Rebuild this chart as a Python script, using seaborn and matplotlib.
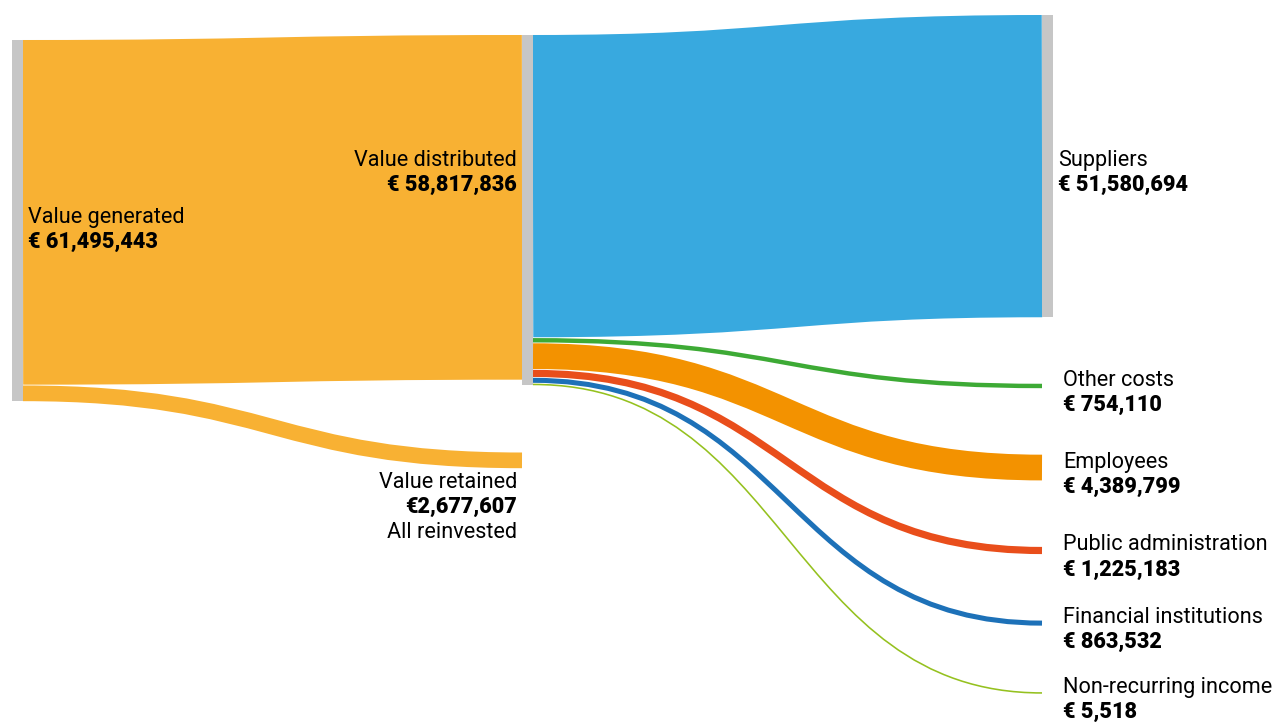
import matplotlib
matplotlib.use("Agg")
import matplotlib.pyplot as plt
from matplotlib.path import Path
from matplotlib.patches import PathPatch, Rectangle
import seaborn as sns

# ---- data -------------------------------------------------------------
generated_label = "Value generated"
distributed_label = "Value distributed"
retained_label = "Value retained"
retained_note = "All reinvested"

value_generated = 61495443
value_distributed = 58817836
value_retained = 2677607

recipients = [
    "Suppliers",
    "Other costs",
    "Employees",
    "Public administration",
    "Financial institutions",
    "Non-recurring income",
]
recipient_values = [51580694, 754110, 4389799, 1225183, 863532, 5518]
recipient_colors = ["#38A9DF", "#3DAA35", "#F39200", "#E94E1B", "#1D71B8", "#95C11F"]

value_color = "#F8B133"
node_color = "#C6C6C6"

# ---- theme --------------------------------------------------------------
sns.set_theme(style="white")
plt.rcParams["font.family"] = ["Roboto", "DejaVu Sans"]

W, H, DPI = 1280, 722, 100
fig = plt.figure(figsize=(W / DPI, H / DPI), dpi=DPI)
ax = fig.add_axes([0, 0, 1, 1])
ax.set_xlim(0, W)
ax.set_ylim(H, 0)
ax.axis("off")

# ---- layout -------------------------------------------------------------
PX_PER_EURO = 5.86e-6      # vertical scale of the flows
MIN_W = 1.6                # thinnest drawable flow
GAP = 0.8                  # hairline between stacked flows
NODE_W = 11
COL_X = [12, 522, 1042]
TOP_LEFT, TOP_MID, TOP_RIGHT = 40, 35, 15
RIGHT_SPACING = 66.5
RETAINED_TOP = 452.5
PT = 72 / DPI

FS = 15.6
TXT = "#000000"


def width(v):
    return max(v * PX_PER_EURO, MIN_W)


def euro(v, space=True):
    return ("€ " if space else "€") + f"{v:,}"


def flow(x0, y0, x1, y1, w, color):
    """Horizontal bezier ribbon of constant width w (pixels), centred on the given ends."""
    xm = (x0 + x1) / 2
    path = Path([(x0, y0), (xm, y0), (xm, y1), (x1, y1)],
                [Path.MOVETO, Path.CURVE4, Path.CURVE4, Path.CURVE4])
    ax.add_patch(PathPatch(path, fill=False, edgecolor=color, lw=w * PT,
                           capstyle="butt", joinstyle="round"))


def node(x, top, bottom):
    ax.add_patch(Rectangle((x, top), NODE_W, bottom - top, color=node_color, lw=0))


# ---- generated -> distributed / retained ---------------------------------
w_dist = width(value_distributed)
w_ret = width(value_retained)

x_left = COL_X[0] + NODE_W
x_mid = COL_X[1]

dist_left_top = TOP_LEFT
ret_left_top = dist_left_top + w_dist + GAP
node0_bottom = ret_left_top + w_ret

flow(x_left, dist_left_top + w_dist / 2, x_mid, TOP_MID + w_dist / 2, w_dist, value_color)
flow(x_left, ret_left_top + w_ret / 2, x_mid, RETAINED_TOP + w_ret / 2, w_ret, value_color)
node(COL_X[0], TOP_LEFT, node0_bottom)

# ---- distributed -> recipients -------------------------------------------
x_mid_out = COL_X[1] + NODE_W
x_right = COL_X[2]

y_out = TOP_MID
y_in = TOP_RIGHT
right_nodes = []
for name, v, c in zip(recipients, recipient_values, recipient_colors):
    w = width(v)
    flow(x_mid_out, y_out + w / 2, x_right, y_in + w / 2, w, c)
    right_nodes.append((name, v, y_in, y_in + w))
    y_out += w + GAP
    y_in += w + RIGHT_SPACING
node1_bottom = y_out - GAP
node(COL_X[1], TOP_MID, node1_bottom)

# only the dominant recipient carries a visible node bar
name0, v0, t0, b0 = right_nodes[0]
node(COL_X[2], t0, b0)

# ---- labels ----------------------------------------------------------------
def label(x, y, name, value_text, ha="left", extra=None):
    ax.text(x, y, name, fontsize=FS, color=TXT, ha=ha, va="baseline")
    ax.text(x, y + 25, value_text, fontsize=FS, color=TXT, ha=ha, va="baseline",
            fontweight="heavy")
    if extra:
        ax.text(x, y + 50, extra, fontsize=FS, color=TXT, ha=ha, va="baseline")


node0_center = (TOP_LEFT + node0_bottom) / 2
label(COL_X[0] + NODE_W + 5, node0_center + 2, generated_label, euro(value_generated))

supp_center = (t0 + b0) / 2
label(COL_X[1] - 5, supp_center, distributed_label, euro(value_distributed), ha="right")

label(COL_X[1] - 5, RETAINED_TOP + w_ret / 2 + 28, retained_label,
      euro(value_retained, space=False), ha="right", extra=retained_note)

for i, (name, v, top, bottom) in enumerate(right_nodes):
    xl = COL_X[2] + NODE_W + 5 + (0 if i == 0 else 5)
    label(xl, (top + bottom) / 2, name, euro(v))

fig.savefig("out.png", dpi=DPI)
